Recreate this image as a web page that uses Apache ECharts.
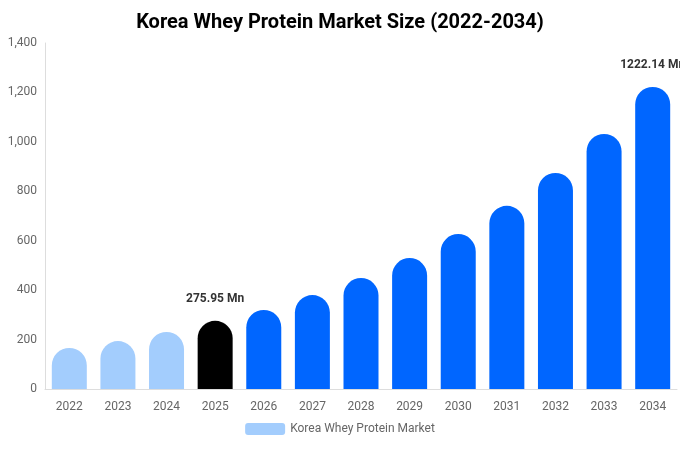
<!DOCTYPE html>
<html>
<head>
<meta charset="utf-8">
<script src="https://cdn.jsdelivr.net/npm/echarts@6/dist/echarts.min.js"></script>
<style>html,body{margin:0;padding:0;background:#fff}#chart{width:680px;height:450px}</style>
</head>
<body>
<div id="chart"></div>
<script>
const years = ['2022','2023','2024','2025','2026','2027','2028','2029','2030','2031','2032','2033','2034'];
const values = [166, 194, 231, 275.95, 320, 380, 449, 530, 627, 741, 874, 1032, 1222.14];
const labelled = ['2025', '2034'];

const lightBlue = '#a3cdfd', black = '#000000', blue = '#0066ff';

const chart = echarts.init(document.getElementById('chart'));

const data = values.map((v, i) => {
  const y = +years[i];
  const color = y < 2025 ? lightBlue : (y === 2025 ? black : blue);
  return {
    value: v,
    itemStyle: { color: color },
    label: {
      show: labelled.includes(years[i]),
      position: 'top',
      formatter: (p) => p.value + ' Mn',
      fontWeight: 'bold',
      fontSize: 12,
      color: '#333',
      distance: 16
    }
  };
});

chart.setOption({
  animation: false,
  textStyle: { fontFamily: 'Roboto, sans-serif' },
  title: {
    text: 'Korea Whey Protein Market Size (2022-2034)',
    left: 'center',
    top: 8,
    textStyle: { fontSize: 20, fontWeight: 'bold', color: '#000' }
  },
  legend: {
    bottom: 10,
    itemWidth: 40,
    itemHeight: 12,
    textStyle: { color: '#666', fontSize: 12 },
    data: [{ name: 'Korea Whey Protein Market', itemStyle: { color: lightBlue } }]
  },
  grid: { left: 45, right: 3, top: 43, bottom: 61 },
  xAxis: {
    type: 'category',
    data: years,
    axisLine: { lineStyle: { color: '#ddd' } },
    axisTick: { show: false },
    axisLabel: { color: '#666', fontSize: 12, margin: 12 }
  },
  yAxis: {
    type: 'value',
    min: 0,
    max: 1400,
    interval: 200,
    axisLine: { show: true, lineStyle: { color: '#ddd' } },
    splitLine: { show: false },
    axisLabel: { color: '#666', fontSize: 12, formatter: (v) => v.toLocaleString('en-US') }
  },
  series: [{
    name: 'Korea Whey Protein Market',
    type: 'bar',
    barWidth: 35,
    itemStyle: { borderRadius: [18, 18, 0, 0] },
    data: data
  }]
});
</script>
</body>
</html>
